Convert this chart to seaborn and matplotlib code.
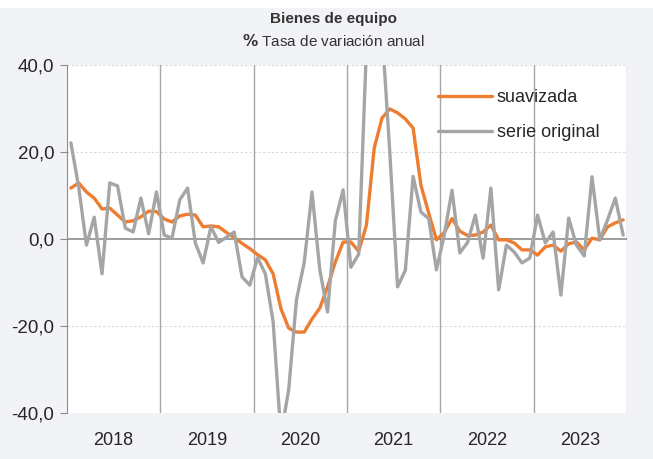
import numpy as np
import pandas as pd
import matplotlib
matplotlib.use("Agg")
import matplotlib.pyplot as plt
import seaborn as sns
from matplotlib.patches import Rectangle
from matplotlib.ticker import FuncFormatter

# Estilo
sns.set_style("white")
plt.rcParams["font.family"] = ["Liberation Sans", "DejaVu Sans"]

# Datos: tasa de variación anual, ene-2018 a dic-2023
years = ["2018", "2019", "2020", "2021", "2022", "2023"]

serie_original = [
    22.1, 12.0, -1.4, 5.0, -8.0, 12.9, 12.2, 2.5, 1.6, 9.4, 1.2, 10.8,
    0.9, 0.2, 9.0, 11.7, -0.9, -5.5, 2.8, -0.8, 0.4, 1.6, -8.7, -10.6,
    -4.3, -8.0, -19.0, -45.0, -34.7, -14.0, -5.4, 10.8, -7.0, -16.8, 4.2, 11.3,
    -6.5, -3.5, 44.0, 90.0, 48.0, 20.0, -11.0, -7.2, 14.4, 6.2, 4.7, -7.1,
    0.9, 11.2, -3.2, -0.8, 5.5, -4.4, 11.7, -11.7, -1.4, -3.0, -5.5, -4.4,
    5.5, -0.9, 1.6, -12.9, 4.8, -1.4, -3.9, 14.3, -0.2, 4.4, 9.4, 0.9,
]

suavizada = [
    11.7, 12.9, 10.8, 9.4, 6.9, 7.1, 5.5, 3.9, 4.2, 5.1, 6.4, 6.3,
    4.6, 3.9, 5.3, 5.7, 5.5, 2.8, 3.0, 2.8, 1.5, 0.3, -1.0, -2.2,
    -3.6, -4.8, -8.0, -16.0, -20.5, -21.4, -21.4, -18.4, -15.9, -11.0, -5.3, -0.7,
    -0.7, -2.8, 3.2, 20.9, 27.8, 29.9, 29.0, 27.6, 25.5, 12.4, 6.0, -0.2,
    1.5, 4.7, 1.8, 0.8, 0.9, 1.6, 3.2, -0.2, -0.2, -0.9, -2.5, -2.5,
    -3.7, -1.8, -1.4, -2.8, -1.1, -0.7, -2.5, 0.2, -0.2, 2.8, 3.7, 4.4,
]

mes = np.arange(len(suavizada))
df = pd.DataFrame({"mes": mes, "suavizada": suavizada, "serie original": serie_original})
df_long = df.melt(id_vars="mes", var_name="serie", value_name="valor")

colores = {"suavizada": "#ed7d31", "serie original": "#a5a5a5"}

# Figura
fig = plt.figure(figsize=(6.53, 4.59), dpi=100, facecolor="#f2f3f7")
fig.patches.append(Rectangle((0, 1 - 8 / 459), 1, 8 / 459, transform=fig.transFigure,
                             facecolor="white", edgecolor="none", zorder=0))
ax = fig.add_axes([67 / 653, 1 - 413 / 459, 560 / 653, 348 / 459])
ax.set_facecolor("white")

# Rejilla y separadores de año
for v in [20, 40, -20]:
    ax.axhline(v, color="#d9d9d9", lw=0.8, ls=(0, (2, 2)), zorder=1)
ax.axhline(0, color="#8c8c8c", lw=1.2, zorder=2)
for k in range(1, len(years) + 1):
    ax.axvline(12 * k - 0.5, color="#a6a6a6", lw=1.0, zorder=1)

sns.lineplot(data=df_long, x="mes", y="valor", hue="serie", palette=colores,
             linewidth=2.4, ax=ax, zorder=3)

ax.set_xlim(-0.5, len(mes) - 0.5)
ax.set_ylim(-40, 40)
ax.set_yticks([-40, -20, 0, 20, 40])
ax.yaxis.set_major_formatter(FuncFormatter(lambda v, _: f"{v:.1f}".replace(".", ",")))
ax.set_xticks([12 * i + 5.5 for i in range(len(years))])
ax.set_xticklabels(years)
ax.set_xlabel("")
ax.set_ylabel("")
ax.tick_params(axis="y", labelsize=13.5, length=5, color="#8c8c8c", left=True, pad=4)
ax.tick_params(axis="x", labelsize=13, length=0, pad=14)

for s in ["top", "right", "bottom"]:
    ax.spines[s].set_visible(False)
ax.spines["left"].set_color("#8c8c8c")

# Leyenda
handles, labels = ax.get_legend_handles_labels()
ax.legend(handles, labels, loc="upper left", bbox_to_anchor=(438 / 653, 1 - 89 / 459),
          bbox_transform=fig.transFigure, frameon=False, fontsize=13,
          handlelength=3.0, handletextpad=0.25, labelspacing=1.0,
          borderpad=0, borderaxespad=0)

# Títulos
fig.text(0.51, 1 - 19 / 459, "Bienes de equipo", ha="center", va="center",
         fontsize=11, fontweight="bold", color="#333333")
fig.text(0.51, 1 - 41 / 459, r"$\bf{\%}$ Tasa de variación anual", ha="center", va="center",
         fontsize=11, color="#333333")

fig.savefig("out.png", dpi=100, facecolor=fig.get_facecolor())
